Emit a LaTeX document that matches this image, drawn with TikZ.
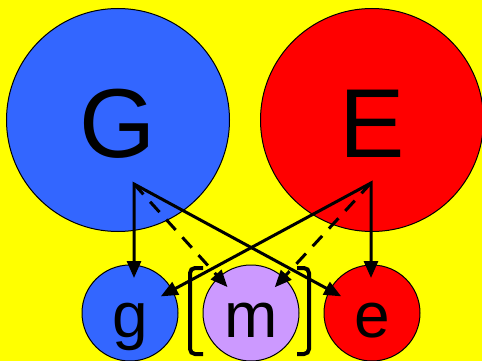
\documentclass[tikz,border=0pt]{standalone}
\usepackage{fontspec}
\setmainfont{Liberation Sans}
\usetikzlibrary{arrows.meta,positioning}
\definecolor{bgyellow}{RGB}{255,255,0}
\definecolor{ballblue}{RGB}{51,102,255}
\definecolor{ballred}{RGB}{255,0,0}
\definecolor{balllilac}{RGB}{204,153,255}
\tikzset{
>={Triangle[length=17pt,width=14pt]},
  bigball/.style={
    circle,
    draw=black, line width=1pt,
    minimum size=223pt,
    inner sep=0pt,
    font=\fontsize{98}{98}\selectfont,
    text height=74pt,
    text depth=0pt},
  smallball/.style={
    circle,
    draw=black, line width=1pt,
    minimum size=96pt,
    inner sep=0pt,
    font=\fontsize{64}{64}\selectfont,
    text height=48pt,
    text depth=0pt},
  link/.style={draw, line width=3pt, shorten >=35pt},
  weaklink/.style={link, ->, dash pattern=on 14pt off 10pt},
  bracket/.style={draw, line width=4pt, rounded corners=5pt},
}
\begin{document}
\begin{tikzpicture}
[x=1pt, y=-1pt, node distance=24pt]

    \fill[bgyellow] (0,0) rectangle (482,361);
    \useasboundingbox (0,0) rectangle (482,361);

    \node [bigball, fill=ballblue](G) at (118,120){G};
    \node [bigball, fill=ballred](E) at (372,120){E};
    \node [smallball, fill=ballblue](g) at (130,313){g};
    \node [smallball, fill=balllilac, right=of g](m){m};
    \node [smallball, fill=ballred, right=of m](e){e};

    % brackets round m
    \draw[bracket] (203,268) -- (190,268) -- (190,354) -- (203,354);
    \draw[bracket] (297,268) -- (309,268) -- (309,354) -- (297,354);

    \coordinate (Gsrc) at (134,184);
    \coordinate (Esrc) at (371,183);
    \draw[link, <->, shorten <=35pt] (Gsrc |- g.center) -- (Gsrc) -- (e.center);
    \draw[link, <->, shorten <=35pt] (g.center) -- (Esrc) -- (Esrc |- e.center);
    \draw[weaklink] (Gsrc) -- (m.center);
    \draw[weaklink] (Esrc) -- (m.center);

\end{tikzpicture}
\end{document}
